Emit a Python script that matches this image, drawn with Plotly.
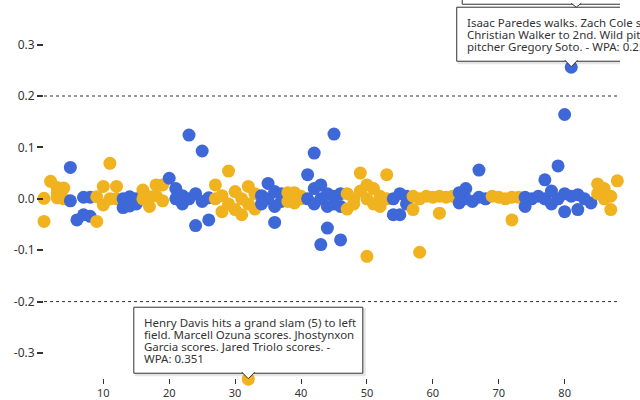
import plotly.graph_objects as go

# ---- data (play index, signed win-probability added, batting side) ----
play = [1, 1, 2, 3, 3, 4, 4, 3,
        5, 5, 6, 7, 7, 8, 8,
        9, 9, 10, 10, 11, 11, 12, 12,
        13, 13, 14, 14, 15, 15,
        16, 16, 17, 17, 18, 18, 19, 19,
        20, 21, 21, 22, 22, 23, 23, 24, 24, 25, 25, 26, 26,
        27, 27, 28, 28, 29, 29, 30, 30, 31, 31, 32, 32, 32, 33, 33,
        34, 34, 35, 35, 36, 36, 36, 37, 37,
        38, 38, 39, 39, 40, 40,
        41, 41, 42, 42, 42, 43, 43, 43, 44, 44, 44, 45, 45, 45, 46, 46, 46,
        47, 47, 48, 48, 49, 49, 50, 50, 50, 51, 51, 52, 52, 53, 53,
        54, 54, 55, 55, 56, 56,
        57, 57, 58, 58, 59, 60, 61, 61, 62, 63,
        64, 64, 65, 65, 66, 67, 67, 68,
        69, 70, 71, 72, 72, 73,
        74, 74, 75, 76, 77, 77, 78, 78, 79, 79, 80, 80, 80, 81, 81, 82, 82, 83, 84,
        85, 85, 86, 86, 87, 87, 88]

wpa = [0.001, -0.044, 0.034, 0.022, 0.002, 0.021, 0.0, 0.012,
       0.061, -0.004, -0.041, 0.003, -0.031, 0.003, -0.034,
       -0.044, 0.004, 0.024, -0.012, 0.069, 0.0, 0.024, 0.0,
       0.0, -0.017, 0.004, -0.014, 0.0, -0.010,
       0.017, 0.0, -0.015, 0.004, 0.027, 0.006, 0.027, -0.004,
       0.040, 0.020, 0.0, -0.010, 0.006, 0.124, 0.0, -0.052, 0.010, 0.093, -0.005, -0.041, 0.002,
       0.027, 0.0, -0.025, 0.006, 0.054, -0.010, -0.021, 0.014, -0.031, 0.0, -0.351, 0.024, -0.010, 0.010, -0.020,
       -0.010, 0.006, 0.030, 0.0, -0.046, 0.014, -0.015, -0.005, 0.010,
       0.012, -0.005, 0.012, -0.008, 0.005, 0.0,
       0.047, 0.0, 0.089, 0.020, -0.010, 0.027, -0.089, 0.0, -0.057, 0.010, -0.015, 0.126, 0.005, -0.010, -0.080, 0.010, -0.015,
       0.010, -0.020, 0.0, -0.010, 0.050, 0.015, -0.112, 0.027, 0.0, 0.020, -0.010, 0.005, -0.015, 0.047, 0.0,
       0.0, -0.031, 0.010, -0.031, 0.005, -0.010,
       -0.021, 0.005, -0.104, 0.0, 0.005, 0.003, -0.028, 0.005, 0.003, 0.005,
       0.012, -0.008, 0.020, 0.0, -0.005, 0.056, 0.003, 0.0,
       0.005, 0.003, 0.0, -0.041, 0.003, 0.003,
       -0.015, 0.003, 0.0, 0.005, 0.037, 0.0, 0.015, -0.010, 0.064, 0.0, 0.164, -0.025, 0.010, 0.256, 0.005, -0.021, 0.008, 0.0, -0.008,
       0.029, 0.010, 0.020, 0.0, -0.021, 0.005, 0.035]

side = list("AAAAAAAA" "HHHHHHH" "AAAAAAAA" "HHHHHH" "AAAAAAAA"
            "HHHHHHHHHHHHH" "AAAAAAAAAAAAAAA" "HHHHHHHHH" "AAAAAA"
            "HHHHHHHHHHHHHHHHH" "AAAAAAAAAAAAAAA" "HHHHHH" "AAAAAAAAAA"
            "HHHHHHHH" "AAAAAA" "HHHHHHHHHHHHHHHHHHH" "AAAAAAA")

side_colors = {"A": "#F0B21E", "H": "#3E68D8"}

y_ticks = [-0.3, -0.2, -0.1, 0.0, 0.1, 0.2, 0.3]
y_tick_labels = ["-0.3", "-0.2", "-0.1", "0.0", "0.1", "0.2", "0.3"]
x_ticks = [10, 20, 30, 40, 50, 60, 70, 80]
threshold_lines = [0.2, -0.2]

# tooltip callouts: (play, wpa, lines)
tip_grand_slam = (32, -0.351, ["Henry Davis hits a grand slam (5) to left",
                                "field. Marcell Ozuna scores. Jhostynxon",
                                "Garcia scores. Jared Triolo scores. -",
                                "WPA: 0.351"])
tip_walk = (81, 0.256, ["Isaac Paredes walks. Zach Cole scores.",
                        "Christian Walker to 2nd. Wild pitch by",
                        "pitcher Gregory Soto. - WPA: 0.258"])

FONT = "Noto Sans"
INK = "#333333"

fig = go.Figure()
fig.add_trace(go.Scatter(
    x=play, y=wpa, mode="markers",
    marker=dict(size=13, color=[side_colors[s] for s in side], line=dict(width=0)),
    cliponaxis=False, hoverinfo="skip", showlegend=False,
))

shapes = []
for yv in threshold_lines:
    shapes.append(dict(type="line", xref="paper", x0=0, x1=1, yref="y", y0=yv, y1=yv,
                       line=dict(color=INK, width=1, dash="dot"), layer="below"))

annotations = []


def callout(px, py, lines, dx=0):
    n = len(lines)
    line_h = 12
    pad = 9
    gap = 6
    half_w = 114.5
    h = 2 * pad + n * line_h
    bottom = gap
    top = gap + h
    common = dict(xsizemode="pixel", ysizemode="pixel", xanchor=px, yanchor=py,
                  xref="x", yref="y", layer="above")
    # soft shadow
    shapes.append(dict(type="rect", x0=-half_w + dx + 1, x1=half_w + dx + 3, y0=bottom - 3, y1=top - 1,
                       fillcolor="rgba(0,0,0,0.10)", line=dict(width=0), **common))
    shapes.append(dict(type="rect", x0=-half_w + dx, x1=half_w + dx, y0=bottom, y1=top,
                       fillcolor="white", line=dict(color=INK, width=1), **common))
    shapes.append(dict(type="path", path=f"M -6.5 {bottom + 1.2} L 0 {bottom - 5.5} L 6.5 {bottom + 1.2}",
                       fillcolor="white", line=dict(color=INK, width=1), **common))
    for i, t in enumerate(lines):
        annotations.append(dict(
            x=px, y=py, xref="x", yref="y", text=t, showarrow=False,
            xanchor="left", yanchor="middle", align="left",
            xshift=-half_w + dx + 8, yshift=top - pad - line_h / 2 - i * line_h,
            font=dict(family=FONT, size=11.5, color=INK)))


callout(*tip_grand_slam)
callout(*tip_walk)

# partially visible earlier tooltip above the walk callout
wx, wy, _ = tip_walk
shapes.append(dict(type="rect", xsizemode="pixel", ysizemode="pixel", xanchor=wx, yanchor=wy,
                   xref="x", yref="y", x0=-109, x1=135, y0=63, y1=130,
                   fillcolor="white", line=dict(color=INK, width=1), layer="above"))
shapes.append(dict(type="path", xsizemode="pixel", ysizemode="pixel", xanchor=wx, yanchor=wy,
                   xref="x", yref="y", path="M 0 64 L 5 60 L 10 64",
                   fillcolor="white", line=dict(color=INK, width=1), layer="above"))

fig.update_layout(
    width=640, height=400,
    margin=dict(l=44, r=20, t=0, b=14),
    paper_bgcolor="white", plot_bgcolor="white",
    font=dict(family=FONT, size=12, color=INK),
    shapes=shapes, annotations=annotations,
    xaxis=dict(range=[1.0, 88.4], tickvals=x_ticks, ticks="outside", ticklen=5,
               tickcolor=INK, showgrid=False, zeroline=False, showline=False,
               anchor="free", position=0.0207,
               tickfont=dict(size=11, color=INK)),
    yaxis=dict(range=[-0.3642, 0.3868], tickvals=y_ticks, ticktext=y_tick_labels,
               ticks="outside", ticklen=6, tickwidth=1.5, tickcolor=INK,
               showgrid=False, zeroline=False, showline=False,
               tickfont=dict(size=12, color=INK)),
)

fig.write_html("out.html")
